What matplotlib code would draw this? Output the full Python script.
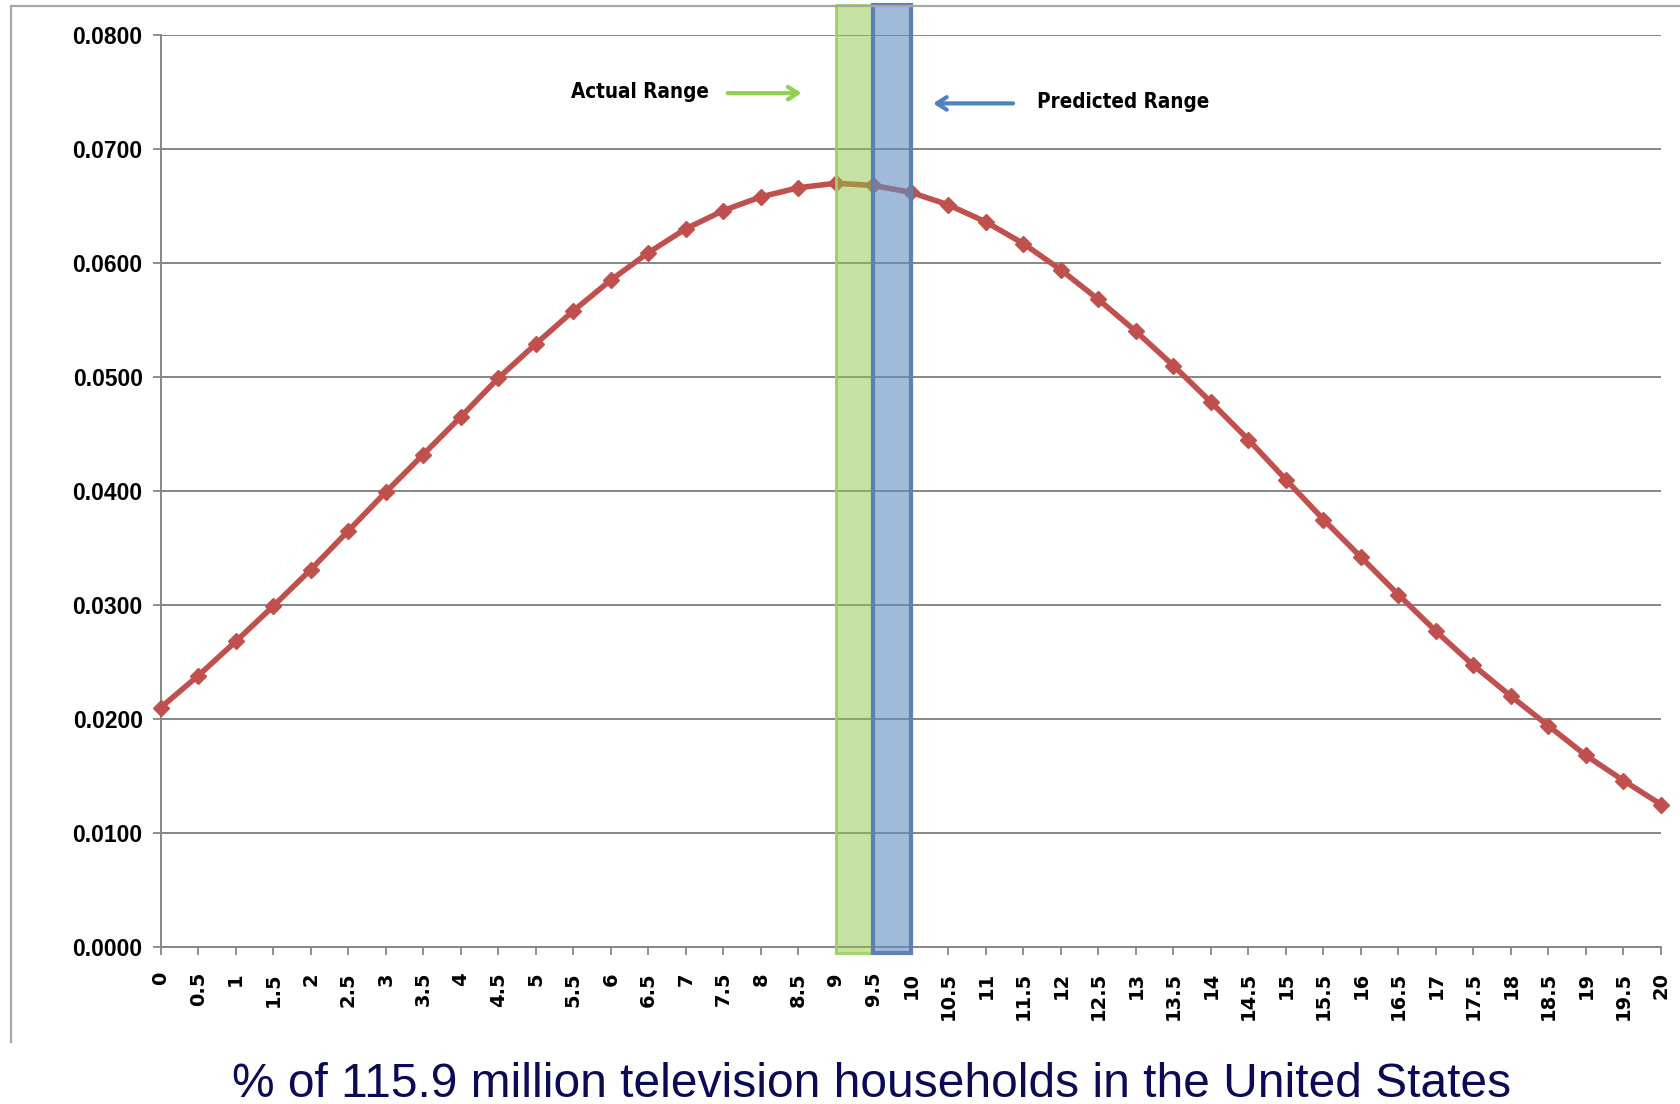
import matplotlib
matplotlib.use("Agg")
import matplotlib.pyplot as plt
from matplotlib.lines import Line2D
from matplotlib import font_manager as fm

# ---- data ----
x_values = [0, 0.5, 1, 1.5, 2, 2.5, 3, 3.5, 4, 4.5, 5, 5.5, 6, 6.5, 7, 7.5, 8, 8.5, 9, 9.5,
            10, 10.5, 11, 11.5, 12, 12.5, 13, 13.5, 14, 14.5, 15, 15.5, 16, 16.5, 17, 17.5,
            18, 18.5, 19, 19.5, 20]
x_labels = ['0', '0.5', '1', '1.5', '2', '2.5', '3', '3.5', '4', '4.5', '5', '5.5', '6', '6.5',
            '7', '7.5', '8', '8.5', '9', '9.5', '10', '10.5', '11', '11.5', '12', '12.5', '13',
            '13.5', '14', '14.5', '15', '15.5', '16', '16.5', '17', '17.5', '18', '18.5', '19',
            '19.5', '20']
y_values = [0.0210, 0.0238, 0.0268, 0.0299, 0.0331, 0.0365, 0.0399, 0.0432, 0.0465, 0.0499,
            0.0529, 0.0558, 0.0585, 0.0609, 0.0630, 0.0646, 0.0658, 0.0666, 0.0670, 0.0668,
            0.0662, 0.0651, 0.0636, 0.0617, 0.0594, 0.0568, 0.0540, 0.0510, 0.0478, 0.0445,
            0.0410, 0.0375, 0.0342, 0.0309, 0.0277, 0.0247, 0.0220, 0.0194, 0.0168, 0.0146,
            0.0125]
y_ticks = [0.0, 0.01, 0.02, 0.03, 0.04, 0.05, 0.06, 0.07, 0.08]
y_tick_labels = ['0.0000', '0.0100', '0.0200', '0.0300', '0.0400', '0.0500', '0.0600',
                 '0.0700', '0.0800']
actual_range = (9, 9.5)
predicted_range = (9.5, 10)
title_text = "% of 115.9 million television households in the United States"

# ---- pick a narrow font for the annotations if one is installed ----
names = {f.name for f in fm.fontManager.ttflist}
condensed = [f for f in fm.fontManager.ttflist
             if f.name == 'DejaVu Sans' and 'condensed' in str(f.stretch)]
if 'Liberation Sans Narrow' in names:
    ann_font = dict(fontfamily='Liberation Sans Narrow', fontsize=17)
elif condensed:
    ann_font = dict(fontfamily='DejaVu Sans', fontstretch='condensed', fontsize=14.8)
else:
    ann_font = dict(fontfamily='Liberation Sans', fontsize=14)

# ---- figure ----
fig = plt.figure(figsize=(16.8, 11.04), dpi=100)
ax = fig.add_axes([160.7 / 1680, 1 - 947 / 1104, (1661 - 160.7) / 1680, (947 - 35) / 1104])

grid_c = '#868686'
ax.set_xlim(0, 20)
ax.set_ylim(0, 0.08)
ax.set_yticks(y_ticks)
ax.set_yticklabels(y_tick_labels, fontfamily='Liberation Sans', fontweight='bold', fontsize=16.5)
ax.set_xticks(x_values)
ax.set_xticklabels(x_labels, rotation=90, fontfamily='DejaVu Sans', fontweight='bold', fontsize=14)
ax.tick_params(axis='y', direction='out', length=6, width=1.3, color=grid_c, pad=7)
ax.tick_params(axis='x', direction='out', length=6, width=1.3, color=grid_c, pad=12)
ax.grid(axis='y', color=grid_c, lw=1.4)
ax.set_axisbelow(True)
for s in ['top', 'right']:
    ax.spines[s].set_visible(False)
for s in ['left', 'bottom']:
    ax.spines[s].set_color(grid_c)
    ax.spines[s].set_linewidth(1.4)

# data line
ax.plot(x_values, y_values, color='#c0504d', lw=4, marker='D', markersize=8.5,
        markeredgecolor='#c0504d', zorder=3, clip_on=False)

# range bands
ymin_f = -0.0066
ymax_f = 1.033
ax.axvspan(*actual_range, ymin=ymin_f, ymax=ymax_f, facecolor=(0.56, 0.78, 0.28, 0.5),
           edgecolor=(0.62, 0.82, 0.40, 1.0), lw=2, zorder=4, clip_on=False)
ax.axvspan(*predicted_range, ymin=ymin_f, ymax=ymax_f, facecolor=(0.38, 0.557, 0.757, 0.6),
           edgecolor=(0.36, 0.50, 0.70, 1.0), lw=3, zorder=4, clip_on=False)

# annotations
ax.text(7.31, 0.0750, 'Actual Range', ha='right', va='center', fontweight='bold',
        color='black', **ann_font)
ax.annotate('', xy=(8.58, 0.0749), xytext=(7.52, 0.0749),
            arrowprops=dict(arrowstyle='->,head_length=0.7,head_width=0.45', color='#92d050', lw=3))
ax.text(11.68, 0.0741, 'Predicted Range', ha='left', va='center', fontweight='bold',
        color='black', **ann_font)
ax.annotate('', xy=(10.26, 0.0740), xytext=(11.40, 0.0740),
            arrowprops=dict(arrowstyle='->,head_length=0.7,head_width=0.45', color='#4f81bd', lw=3))

# outer chart frame (left and top edges)
frame_c = '#a6a6a6'
fig.add_artist(Line2D([10.5 / 1680, 10.5 / 1680], [1 - 6 / 1104, 1 - 1042 / 1104],
                      transform=fig.transFigure, color=frame_c, lw=1.6))
fig.add_artist(Line2D([10.5 / 1680, 1.0], [1 - 6 / 1104, 1 - 6 / 1104],
                      transform=fig.transFigure, color=frame_c, lw=1.6))

# bottom title
fig.text(872 / 1680, 7 / 1104, title_text, ha='center', va='baseline', fontsize=34.5,
         fontfamily='Liberation Sans', color='#0b0b55')

fig.savefig('out.png', dpi=100)
